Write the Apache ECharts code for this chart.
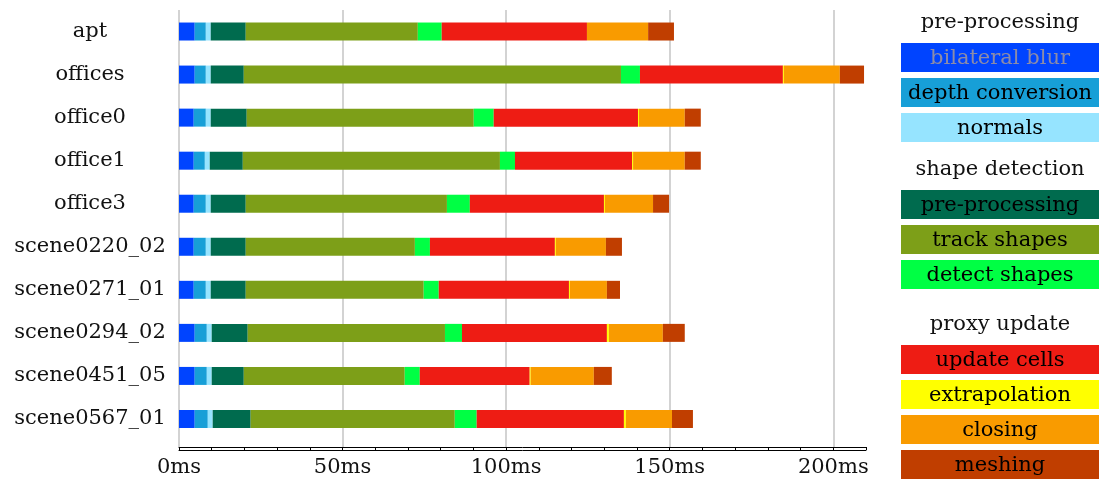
<!DOCTYPE html>
<html>
<head>
<meta charset="utf-8">
<title>Per-frame timing breakdown</title>
<script src="https://cdn.jsdelivr.net/npm/echarts@6.0.0/dist/echarts.min.js"></script>
<style>
  html, body { margin: 0; padding: 0; background: #ffffff; }
  #chart { width: 1099px; height: 489px; }
</style>
</head>
<body>
<div id="chart"></div>
<script>
// Sequences (top to bottom)
const categories = ['apt', 'offices', 'office0', 'office1', 'office3',
  'scene0220_02', 'scene0271_01', 'scene0294_02', 'scene0451_05', 'scene0567_01'];

// Stage timings in milliseconds, one value per sequence
const bilateralBlur      = [4.8, 4.8, 4.5, 4.5, 4.5, 4.5, 4.5, 4.8, 4.8, 4.8];
const depthConversion    = [3.4, 3.4, 3.7, 3.4, 3.7, 3.7, 3.7, 3.7, 3.7, 4.0];
const normals            = [1.5, 1.5, 1.5, 1.5, 1.5, 1.5, 1.5, 1.5, 1.5, 1.5];
const shapePreprocessing = [10.7, 10.1, 11.0, 10.1, 10.7, 10.7, 10.7, 11.0, 9.8, 11.6];
const trackShapes        = [52.6, 115.3, 69.4, 78.6, 61.5, 51.7, 54.4, 60.3, 49.2, 62.4];
const detectShapes       = [7.3, 5.8, 6.1, 4.6, 7.0, 4.6, 4.6, 5.2, 4.6, 6.7];
const updateCells        = [44.4, 43.7, 44.1, 35.8, 41.0, 38.2, 39.8, 44.3, 33.6, 45.0];
const extrapolation      = [0.0, 0.3, 0.3, 0.3, 0.3, 0.3, 0.3, 0.6, 0.3, 0.6];
const closing            = [18.7, 17.1, 14.0, 15.8, 14.7, 15.3, 11.3, 16.5, 19.3, 14.1];
const meshing            = [7.9, 7.4, 4.9, 4.9, 4.9, 4.9, 4.0, 6.7, 5.5, 6.4];

// Axis ticks
const tickValues = [0, 50, 100, 150, 200];
const tickUnit = 'ms';

// Stage names, grouped as in the legend
const stageNames = ['bilateral blur', 'depth conversion', 'normals',
  'pre-processing', 'track shapes', 'detect shapes',
  'update cells', 'extrapolation', 'closing', 'meshing'];
const groupTitles = ['pre-processing', 'shape detection', 'proxy update'];
const groupMembers = [[0, 1, 2], [3, 4, 5], [6, 7, 8, 9]];

const stageData = [bilateralBlur, depthConversion, normals, shapePreprocessing,
  trackShapes, detectShapes, updateCells, extrapolation, closing, meshing];
const stageColors = ['#0044ff', '#179fd7', '#96e4ff', '#006b4e', '#7d9f18',
  '#00ff44', '#ee1c14', '#ffff00', '#f99b00', '#c03e00'];
const stageTextColors = ['#8c8ca8', '#000', '#000', '#000', '#000',
  '#000', '#000', '#000', '#000', '#000'];

const FONT = 'DejaVu Serif';
const FONT_SIZE = 21;
const AXIS_MAX = 210;
const PLOT_LEFT = 179;
const PLOT_RIGHT = 233;

const chart = echarts.init(document.getElementById('chart'), null, { renderer: 'canvas' });

const series = stageData.map((vals, i) => ({
  name: stageNames[i] + '#' + i,
  type: 'bar',
  stack: 'total',
  xAxisIndex: 0,
  yAxisIndex: 0,
  barWidth: 18,
  itemStyle: { color: stageColors[i] },
  emphasis: { disabled: true },
  data: vals
}));

// Side legend: group headings followed by coloured boxes with the stage name inside
const legendGraphics = [];
const legendX = 901, legendW = 198, boxH = 29, pitch = 35;
const headerY = [23, 170, 325];
const legendFont = FONT_SIZE + 'px "' + FONT + '"';
groupTitles.forEach((title, g) => {
  legendGraphics.push({
    type: 'text',
    x: legendX + legendW / 2,
    y: headerY[g],
    style: {
      text: title, align: 'center', verticalAlign: 'middle',
      font: legendFont, fill: '#111'
    }
  });
  groupMembers[g].forEach((idx, k) => {
    const top = headerY[g] + 20 + k * pitch;
    legendGraphics.push({
      type: 'rect',
      shape: { x: legendX, y: top, width: legendW, height: boxH },
      style: { fill: stageColors[idx] }
    });
    legendGraphics.push({
      type: 'text',
      x: legendX + legendW / 2,
      y: top + boxH / 2 + 1,
      style: {
        text: stageNames[idx], align: 'center', verticalAlign: 'middle',
        font: legendFont, fill: stageTextColors[idx]
      }
    });
  });
});

const option = {
  animation: false,
  backgroundColor: '#ffffff',
  textStyle: { fontFamily: FONT },
  grid: [
    { left: PLOT_LEFT, right: PLOT_RIGHT, top: 10, bottom: 48.5 },   // bars
    { left: PLOT_LEFT, right: PLOT_RIGHT, top: 10, bottom: 42 }      // grid lines and time axis
  ],
  xAxis: [
    { gridIndex: 0, type: 'value', min: 0, max: AXIS_MAX, show: false },
    {
      gridIndex: 1, type: 'value', min: 0, max: AXIS_MAX, interval: 50,
      position: 'bottom',
      axisLine: { show: false }, axisTick: { show: false },
      axisLabel: {
        margin: 10, fontFamily: FONT, fontSize: FONT_SIZE, color: '#111',
        formatter: v => tickValues.includes(v) ? v + tickUnit : ''
      },
      splitLine: { show: true, showMaxLine: false, lineStyle: { color: '#c4c4c4', width: 1.5 } }
    },
    {
      gridIndex: 1, type: 'value', min: 0, max: AXIS_MAX, interval: 10,
      position: 'bottom', offset: 0,
      axisLine: { show: true, lineStyle: { color: '#000', width: 1 } },
      axisTick: { show: true, length: 3, inside: false, lineStyle: { color: '#000', width: 1 } },
      axisLabel: { show: false }, splitLine: { show: false }
    },
    {
      gridIndex: 1, type: 'value', min: 0, max: AXIS_MAX,
      position: 'bottom', offset: 3,
      axisLine: { show: true, lineStyle: { color: '#000', width: 1 } },
      axisTick: { show: false }, axisLabel: { show: false }, splitLine: { show: false }
    }
  ],
  yAxis: [
    {
      gridIndex: 0, type: 'category', data: categories, inverse: true,
      axisLine: { show: false }, axisTick: { show: false },
      axisLabel: {
        align: 'center', margin: 89, fontFamily: FONT, fontSize: FONT_SIZE, color: '#111'
      }
    },
    { gridIndex: 1, type: 'value', show: false }
  ],
  graphic: legendGraphics,
  series: series
};

chart.setOption(option);
</script>
</body>
</html>
